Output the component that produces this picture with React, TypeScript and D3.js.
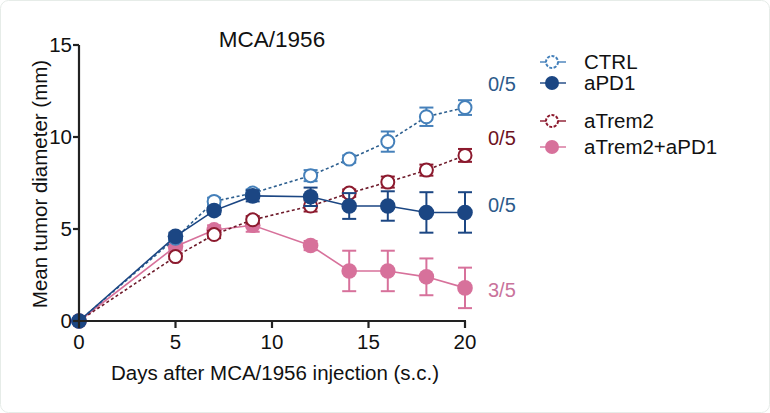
import React from "react";
import * as d3 from "d3";

const days = [0, 5, 7, 9, 12, 14, 16, 18, 20];
const ctrlMean = [0, 4.5, 6.5, 6.95, 7.9, 8.8, 9.75, 11.1, 11.6];
const ctrlErr = [0, 0.15, 0.2, 0.2, 0.3, 0.2, 0.55, 0.5, 0.4];
const apd1Mean = [0, 4.6, 6.0, 6.8, 6.75, 6.25, 6.25, 5.9, 5.9];
const apd1Err = [0, 0.2, 0.2, 0.3, 0.5, 0.7, 0.8, 1.1, 1.1];
const trem2Mean = [0, 3.5, 4.7, 5.5, 6.25, 6.95, 7.55, 8.2, 9.0];
const trem2Err = [0, 0.15, 0.2, 0.2, 0.3, 0.2, 0.3, 0.3, 0.35];
const comboMean = [0, 4.05, 4.95, 5.2, 4.1, 2.72, 2.72, 2.4, 1.8];
const comboErr = [0, 0.2, 0.25, 0.35, 0.25, 1.1, 1.1, 1.0, 1.1];
const xTicks = [0, 5, 10, 15, 20];
const yTicks = [0, 5, 10, 15];
const seriesNames = ["CTRL", "aPD1", "aTrem2", "aTrem2+aPD1"];
const endLabels = ["0/5", "0/5", "0/5", "3/5"];
const endLabelValues = [12.9, 9.95, 6.3, 1.7];

const FONT = "'Liberation Sans', Arial, Helvetica, sans-serif";

export default function App() {
  const W = 770, H = 413;
  const x = d3.scaleLinear().domain([0, 20]).range([79, 465]);
  const y = d3.scaleLinear().domain([0, 15]).range([321, 45]);

  const series = [
    { name: seriesNames[0], mean: ctrlMean, err: ctrlErr, color: "#4580ba", line: "#2d5f8f", filled: false, dash: "3,2.5", order: 2 },
    { name: seriesNames[1], mean: apd1Mean, err: apd1Err, color: "#1b4683", line: "#1b4683", filled: true, dash: null, order: 3 },
    { name: seriesNames[2], mean: trem2Mean, err: trem2Err, color: "#8c1a2e", line: "#6e1a2a", filled: false, dash: "3,2.5", order: 1 },
    { name: seriesNames[3], mean: comboMean, err: comboErr, color: "#d7719b", line: "#d7719b", filled: true, dash: null, order: 0 },
  ];

  const lineGen = d3.line<number>().x((_, i) => x(days[i])).y((v) => y(v));
  const drawOrder = [...series].sort((a, b) => a.order - b.order);

  const labelColors = ["#2c5a8a", "#6e1222", "#2c5a8a", "#c9739b"];
  const legendY = [62, 83, 121, 147];

  return (
    <svg width={W} height={H} style={{ position: "absolute", left: 0, top: 0 }} fontFamily={FONT}>
      <rect x={0.5} y={0.5} width={W - 1} height={H - 1} rx={8} fill="#ffffff" stroke="#e6ece8" />
      <text x={272} y={47} textAnchor="middle" fontSize={22.5} fill="#111">MCA/1956</text>

      {drawOrder.map((s) => (
        <g key={s.name}>
          <path d={lineGen(s.mean) || ""} fill="none" stroke={s.line} strokeWidth={1.6} strokeDasharray={s.dash || undefined} />
          {s.mean.map((m, i) => {
            const e = s.err[i];
            if (e <= 0.12) return null;
            const cx = x(days[i]);
            return (
              <g key={i} stroke={s.color} strokeWidth={2}>
                <line x1={cx} x2={cx} y1={y(m - e)} y2={y(m + e)} />
                <line x1={cx - 7} x2={cx + 7} y1={y(m - e)} y2={y(m - e)} />
                <line x1={cx - 7} x2={cx + 7} y1={y(m + e)} y2={y(m + e)} />
              </g>
            );
          })}
          {s.mean.map((m, i) => (
            <circle key={"c" + i} cx={x(days[i])} cy={y(m)} r={s.filled ? 7.8 : 6.5}
              fill={s.filled ? s.color : "#fff"} stroke={s.color} strokeWidth={s.filled ? 0 : 2} />
          ))}
        </g>
      ))}

      <g stroke="#222" strokeWidth={2.2}>
        <line x1={x(0)} x2={x(0)} y1={y(15)} y2={y(0) + 1} />
        <line x1={x(0) - 1} x2={x(20) + 1} y1={y(0)} y2={y(0)} />
        {yTicks.map((t) => (
          <line key={"yt" + t} x1={x(0) - 6} x2={x(0)} y1={y(t)} y2={y(t)} />
        ))}
        {xTicks.map((t) => (
          <line key={"xt" + t} x1={x(t)} x2={x(t)} y1={y(0)} y2={y(0) + 7} />
        ))}
      </g>
      {yTicks.map((t) => (
        <text key={"yl" + t} x={x(0) - 7} y={y(t) + 7} textAnchor="end" fontSize={20.5} fill="#111">{t}</text>
      ))}
      {xTicks.map((t) => (
        <text key={"xl" + t} x={x(t)} y={y(0) + 28} textAnchor="middle" fontSize={20.5} fill="#111">{t}</text>
      ))}
      <text x={275} y={380} textAnchor="middle" fontSize={20.5} fill="#111">Days after MCA/1956 injection (s.c.)</text>
      <text transform={`translate(47,${184}) rotate(-90)`} textAnchor="middle" fontSize={20.5} fill="#111">Mean tumor diameter (mm)</text>

      {endLabels.map((l, i) => (
        <text key={"el" + i} x={488} y={y(endLabelValues[i]) + 7} fontSize={20} fill={labelColors[i]}>{l}</text>
      ))}

      {series.map((s, i) => (
        <g key={"lg" + i}>
          <line x1={540} x2={566} y1={legendY[i]} y2={legendY[i]} stroke={s.color} strokeWidth={2} opacity={0.7} />
          <circle cx={552} cy={legendY[i]} r={s.filled ? 7 : 6} fill={s.filled ? s.color : "#fff"} stroke={s.color} strokeWidth={s.filled ? 0 : 2} strokeDasharray={s.filled ? undefined : "3,1.5"} />
          <text x={584} y={legendY[i] + 7} fontSize={20.5} fill="#111">{s.name}</text>
        </g>
      ))}
    </svg>
  );
}
